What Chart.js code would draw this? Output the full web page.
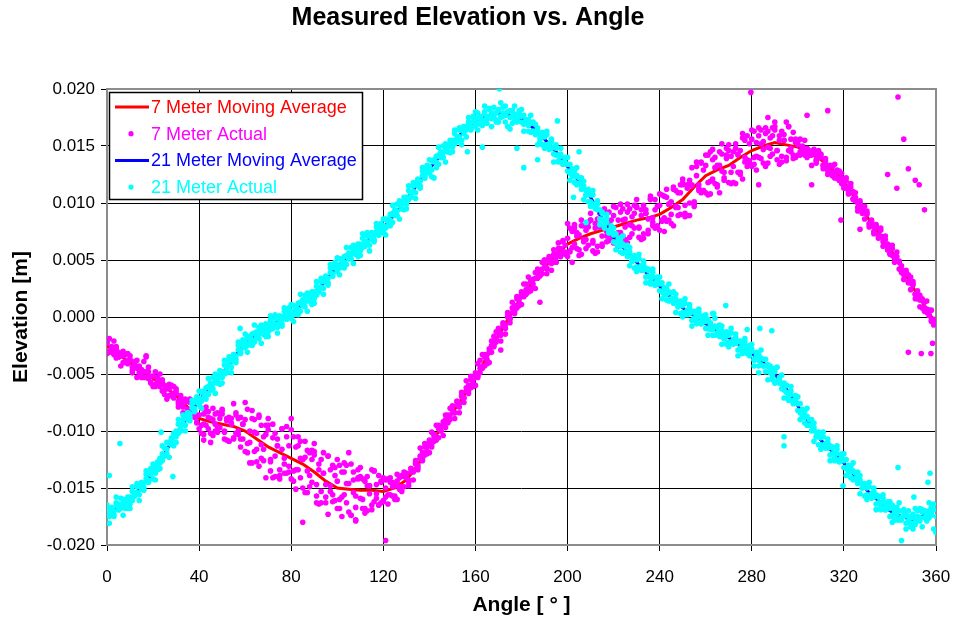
<!DOCTYPE html>
<html><head><meta charset="utf-8">
<script src="https://cdn.jsdelivr.net/npm/chart.js@4.4.0/dist/chart.umd.min.js"></script>
<style>html,body{margin:0;padding:0;background:#fff;}</style>
</head><body>
<canvas id="c" width="954" height="618"></canvas>
<script>
// ---- data (angles in degrees, elevations in metres) ----
const angles = [
0,1,2,3,4,5,6,7,8,9,10,11,12,13,14,15,16,17,18,19,
20,21,22,23,24,25,26,27,28,29,30,31,32,33,34,35,36,37,38,39,
40,41,42,43,44,45,46,47,48,49,50,51,52,53,54,55,56,57,58,59,
60,61,62,63,64,65,66,67,68,69,70,71,72,73,74,75,76,77,78,79,
80,81,82,83,84,85,86,87,88,89,90,91,92,93,94,95,96,97,98,99,
100,101,102,103,104,105,106,107,108,109,110,111,112,113,114,115,116,117,118,119,
120,121,122,123,124,125,126,127,128,129,130,131,132,133,134,135,136,137,138,139,
140,141,142,143,144,145,146,147,148,149,150,151,152,153,154,155,156,157,158,159,
160,161,162,163,164,165,166,167,168,169,170,171,172,173,174,175,176,177,178,179,
180,181,182,183,184,185,186,187,188,189,190,191,192,193,194,195,196,197,198,199,
200,201,202,203,204,205,206,207,208,209,210,211,212,213,214,215,216,217,218,219,
220,221,222,223,224,225,226,227,228,229,230,231,232,233,234,235,236,237,238,239,
240,241,242,243,244,245,246,247,248,249,250,251,252,253,254,255,256,257,258,259,
260,261,262,263,264,265,266,267,268,269,270,271,272,273,274,275,276,277,278,279,
280,281,282,283,284,285,286,287,288,289,290,291,292,293,294,295,296,297,298,299,
300,301,302,303,304,305,306,307,308,309,310,311,312,313,314,315,316,317,318,319,
320,321,322,323,324,325,326,327,328,329,330,331,332,333,334,335,336,337,338,339,
340,341,342,343,344,345,346,347,348,349,350,351,352,353,354,355,356,357,358,359];

// 7 m actual, pass 1
const actual7 = [
-0.0022,-0.0031,-0.0026,-0.0033,-0.0026,-0.0035,-0.0033,-0.0040,-0.0033,-0.0041,
-0.0037,-0.0047,-0.0041,-0.0038,-0.0049,-0.0046,-0.0053,-0.0035,-0.0048,-0.0057,
-0.0052,-0.0061,-0.0053,-0.0061,-0.0055,-0.0068,-0.0062,-0.0069,-0.0060,-0.0071,
-0.0065,-0.0076,-0.0071,-0.0079,-0.0072,-0.0082,-0.0075,-0.0085,-0.0082,-0.0093,
-0.0086,-0.0102,-0.0085,-0.0095,-0.0083,-0.0110,-0.0090,-0.0100,-0.0084,-0.0097,
-0.0082,-0.0101,-0.0091,-0.0109,-0.0089,-0.0076,-0.0102,-0.0089,-0.0114,-0.0094,
-0.0090,-0.0119,-0.0100,-0.0128,-0.0090,-0.0116,-0.0088,-0.0124,-0.0105,-0.0141,
-0.0095,-0.0127,-0.0094,-0.0122,-0.0107,-0.0142,-0.0116,-0.0137,-0.0096,-0.0131,
-0.0089,-0.0144,-0.0114,-0.0134,-0.0109,-0.0125,-0.0123,-0.0154,-0.0119,-0.0145,
-0.0118,-0.0163,-0.0134,-0.0153,-0.0119,-0.0147,-0.0173,-0.0134,-0.0156,-0.0132,
-0.0144,-0.0168,-0.0136,-0.0156,-0.0130,-0.0119,-0.0174,-0.0143,-0.0179,-0.0141,
-0.0159,-0.0142,-0.0168,-0.0148,-0.0155,-0.0134,-0.0162,-0.0147,-0.0165,-0.0144,
-0.0161,-0.0150,-0.0142,-0.0156,-0.0145,-0.0157,-0.0144,-0.0151,-0.0139,-0.0149,
-0.0140,-0.0145,-0.0133,-0.0136,-0.0126,-0.0132,-0.0122,-0.0126,-0.0114,-0.0118,
-0.0108,-0.0114,-0.0103,-0.0108,-0.0095,-0.0100,-0.0092,-0.0097,-0.0086,-0.0090,
-0.0079,-0.0084,-0.0074,-0.0079,-0.0066,-0.0071,-0.0062,-0.0067,-0.0055,-0.0059,
-0.0049,-0.0053,-0.0038,-0.0045,-0.0033,-0.0041,-0.0028,-0.0031,-0.0017,-0.0022,
-0.0011,-0.0014,-0.0006,-0.0010,0.0004,-0.0002,0.0008,0.0003,0.0016,0.0013,
0.0022,0.0018,0.0029,0.0022,0.0031,0.0026,0.0039,0.0034,0.0041,0.0038,
0.0050,0.0042,0.0053,0.0047,0.0059,0.0048,0.0060,0.0053,0.0066,0.0055,
0.0069,0.0057,0.0075,0.0064,0.0074,0.0059,0.0080,0.0066,0.0076,0.0063,
0.0085,0.0065,0.0078,0.0062,0.0091,0.0071,0.0085,0.0066,0.0081,0.0072,
0.0089,0.0068,0.0085,0.0074,0.0095,0.0079,0.0092,0.0070,0.0088,0.0078,
0.0096,0.0078,0.0089,0.0073,0.0094,0.0086,0.0103,0.0080,0.0094,0.0079,
0.0098,0.0085,0.0106,0.0084,0.0099,0.0090,0.0112,0.0096,0.0109,0.0090,
0.0118,0.0091,0.0113,0.0100,0.0131,0.0097,0.0124,0.0113,0.0136,0.0111,
0.0133,0.0107,0.0145,0.0121,0.0140,0.0116,0.0133,0.0152,0.0122,0.0142,
0.0118,0.0141,0.0132,0.0152,0.0127,0.0146,0.0121,0.0155,0.0138,0.0137,
0.0156,0.0134,0.0153,0.0140,0.0164,0.0147,0.0161,0.0135,0.0157,0.0143,
0.0167,0.0146,0.0155,0.0141,0.0160,0.0171,0.0146,0.0156,0.0142,0.0153,
0.0154,0.0142,0.0150,0.0142,0.0143,0.0142,0.0145,0.0145,0.0135,0.0142,
0.0142,0.0133,0.0139,0.0128,0.0126,0.0132,0.0122,0.0129,0.0120,0.0126,
0.0115,0.0119,0.0108,0.0114,0.0104,0.0109,0.0096,0.0100,0.0096,0.0086,
0.0091,0.0081,0.0084,0.0075,0.0081,0.0071,0.0076,0.0062,0.0068,0.0059,
0.0056,0.0060,0.0048,0.0053,0.0048,0.0039,0.0037,0.0039,0.0037,0.0024,
0.0029,0.0020,0.0016,0.0019,0.0008,0.0013,0.0004,0.0004,-0.0004,-0.0003];

// 7 m actual, pass 2
const actual7b = [
-0.0032,-0.0019,-0.0031,-0.0021,-0.0036,-0.0031,-0.0043,-0.0030,-0.0039,-0.0032,
-0.0034,-0.0049,-0.0039,-0.0053,-0.0044,-0.0053,-0.0039,-0.0053,-0.0044,-0.0058,
-0.0061,-0.0048,-0.0060,-0.0050,-0.0065,-0.0060,-0.0072,-0.0059,-0.0068,-0.0061,
-0.0063,-0.0079,-0.0069,-0.0084,-0.0075,-0.0085,-0.0072,-0.0086,-0.0078,-0.0092,
-0.0098,-0.0080,-0.0094,-0.0079,-0.0098,-0.0089,-0.0104,-0.0085,-0.0096,-0.0085,
-0.0085,-0.0107,-0.0089,-0.0109,-0.0093,-0.0106,-0.0084,-0.0103,-0.0088,-0.0107,
-0.0118,-0.0081,-0.0110,-0.0082,-0.0118,-0.0102,-0.0131,-0.0095,-0.0116,-0.0095,
-0.0099,-0.0135,-0.0106,-0.0140,-0.0113,-0.0134,-0.0098,-0.0129,-0.0105,-0.0136,
-0.0142,-0.0105,-0.0134,-0.0105,-0.0141,-0.0125,-0.0154,-0.0117,-0.0139,-0.0117,
-0.0121,-0.0157,-0.0129,-0.0163,-0.0137,-0.0158,-0.0122,-0.0153,-0.0130,-0.0161,
-0.0168,-0.0130,-0.0158,-0.0128,-0.0163,-0.0146,-0.0174,-0.0136,-0.0157,-0.0134,
-0.0140,-0.0168,-0.0144,-0.0170,-0.0148,-0.0165,-0.0135,-0.0159,-0.0139,-0.0163,
-0.0162,-0.0143,-0.0156,-0.0141,-0.0157,-0.0148,-0.0160,-0.0141,-0.0149,-0.0136,
-0.0137,-0.0148,-0.0133,-0.0143,-0.0129,-0.0134,-0.0115,-0.0124,-0.0111,-0.0120,
-0.0119,-0.0101,-0.0109,-0.0095,-0.0106,-0.0096,-0.0104,-0.0086,-0.0092,-0.0080,
-0.0078,-0.0089,-0.0074,-0.0084,-0.0070,-0.0075,-0.0056,-0.0065,-0.0052,-0.0061,
-0.0060,-0.0041,-0.0049,-0.0033,-0.0043,-0.0033,-0.0040,-0.0021,-0.0025,-0.0013,
-0.0010,-0.0021,-0.0005,-0.0015,0.0000,-0.0005,0.0013,0.0005,0.0018,0.0010,
0.0011,0.0029,0.0020,0.0035,0.0023,0.0033,0.0025,0.0042,0.0037,0.0048,
0.0050,0.0038,0.0052,0.0041,0.0054,0.0048,0.0065,0.0055,0.0067,0.0057,
0.0053,0.0078,0.0061,0.0081,0.0060,0.0072,0.0055,0.0080,0.0068,0.0083,
0.0085,0.0058,0.0082,0.0057,0.0079,0.0064,0.0095,0.0071,0.0092,0.0068,
0.0065,0.0096,0.0074,0.0099,0.0071,0.0086,0.0065,0.0095,0.0080,0.0098,
0.0097,0.0070,0.0094,0.0069,0.0091,0.0076,0.0106,0.0083,0.0103,0.0080,
0.0076,0.0107,0.0087,0.0112,0.0085,0.0101,0.0080,0.0111,0.0096,0.0116,
0.0116,0.0088,0.0116,0.0089,0.0116,0.0101,0.0136,0.0111,0.0135,0.0111,
0.0109,0.0142,0.0119,0.0147,0.0117,0.0133,0.0109,0.0143,0.0127,0.0148,
0.0146,0.0117,0.0145,0.0117,0.0143,0.0127,0.0161,0.0136,0.0159,0.0134,
0.0132,0.0163,0.0141,0.0166,0.0139,0.0154,0.0132,0.0163,0.0148,0.0166,
0.0164,0.0138,0.0159,0.0136,0.0155,0.0140,0.0167,0.0145,0.0162,0.0140,
0.0142,0.0156,0.0144,0.0155,0.0140,0.0146,0.0133,0.0147,0.0138,0.0146,
0.0143,0.0130,0.0137,0.0125,0.0132,0.0124,0.0134,0.0122,0.0128,0.0117,
0.0113,0.0122,0.0110,0.0117,0.0103,0.0105,0.0093,0.0102,0.0093,0.0097,
0.0093,0.0079,0.0085,0.0073,0.0078,0.0069,0.0078,0.0066,0.0071,0.0059,
0.0055,0.0063,0.0051,0.0057,0.0042,0.0045,0.0033,0.0041,0.0031,0.0035,
0.0031,0.0016,0.0023,0.0009,0.0015,0.0005,0.0014,0.0001,0.0006,-0.0007];

// 7 m actual, pass 3
const actual7c = [
-0.0023,-0.0030,-0.0027,-0.0031,-0.0028,-0.0035,-0.0034,-0.0034,-0.0040,-0.0038,
-0.0038,-0.0044,-0.0042,-0.0045,-0.0043,-0.0049,-0.0048,-0.0048,-0.0054,-0.0052,
-0.0052,-0.0059,-0.0056,-0.0060,-0.0057,-0.0064,-0.0063,-0.0063,-0.0069,-0.0067,
-0.0067,-0.0074,-0.0072,-0.0076,-0.0074,-0.0081,-0.0081,-0.0081,-0.0088,-0.0086,
-0.0076,-0.0095,-0.0103,-0.0083,-0.0088,-0.0102,-0.0080,-0.0094,-0.0101,-0.0089,
-0.0081,-0.0100,-0.0108,-0.0088,-0.0094,-0.0107,-0.0086,-0.0100,-0.0107,-0.0094,
-0.0075,-0.0111,-0.0128,-0.0089,-0.0101,-0.0127,-0.0086,-0.0112,-0.0126,-0.0103,
-0.0089,-0.0125,-0.0141,-0.0102,-0.0113,-0.0139,-0.0098,-0.0124,-0.0137,-0.0113,
-0.0099,-0.0135,-0.0151,-0.0113,-0.0124,-0.0150,-0.0109,-0.0135,-0.0149,-0.0125,
-0.0111,-0.0147,-0.0164,-0.0125,-0.0137,-0.0163,-0.0122,-0.0148,-0.0162,-0.0139,
-0.0125,-0.0160,-0.0175,-0.0136,-0.0146,-0.0171,-0.0129,-0.0154,-0.0167,-0.0142,
-0.0132,-0.0160,-0.0172,-0.0140,-0.0148,-0.0169,-0.0135,-0.0155,-0.0165,-0.0145,
-0.0141,-0.0158,-0.0164,-0.0145,-0.0149,-0.0160,-0.0138,-0.0149,-0.0153,-0.0140,
-0.0141,-0.0143,-0.0136,-0.0135,-0.0128,-0.0130,-0.0124,-0.0119,-0.0121,-0.0114,
-0.0110,-0.0112,-0.0105,-0.0105,-0.0098,-0.0100,-0.0095,-0.0090,-0.0093,-0.0086,
-0.0082,-0.0084,-0.0077,-0.0076,-0.0069,-0.0071,-0.0065,-0.0060,-0.0062,-0.0055,
-0.0051,-0.0052,-0.0045,-0.0043,-0.0035,-0.0037,-0.0031,-0.0025,-0.0026,-0.0019,
-0.0014,-0.0016,-0.0008,-0.0007,0.0001,-0.0001,0.0004,0.0010,0.0008,0.0016,
0.0020,0.0018,0.0024,0.0025,0.0031,0.0029,0.0034,0.0038,0.0036,0.0042,
0.0046,0.0043,0.0049,0.0049,0.0055,0.0052,0.0056,0.0060,0.0057,0.0063,
0.0082,0.0058,0.0048,0.0078,0.0071,0.0054,0.0085,0.0068,0.0060,0.0079,
0.0091,0.0067,0.0056,0.0086,0.0079,0.0062,0.0093,0.0075,0.0067,0.0085,
0.0097,0.0073,0.0062,0.0092,0.0085,0.0068,0.0099,0.0081,0.0073,0.0091,
0.0103,0.0079,0.0068,0.0098,0.0091,0.0073,0.0104,0.0087,0.0078,0.0097,
0.0108,0.0084,0.0075,0.0105,0.0099,0.0082,0.0114,0.0097,0.0089,0.0109,
0.0121,0.0098,0.0089,0.0120,0.0115,0.0099,0.0132,0.0116,0.0109,0.0129,
0.0142,0.0118,0.0108,0.0138,0.0131,0.0114,0.0145,0.0128,0.0120,0.0139,
0.0151,0.0127,0.0118,0.0148,0.0142,0.0125,0.0157,0.0140,0.0132,0.0152,
0.0164,0.0140,0.0129,0.0159,0.0152,0.0135,0.0166,0.0149,0.0141,0.0159,
0.0171,0.0146,0.0134,0.0163,0.0155,0.0137,0.0167,0.0148,0.0139,0.0156,
0.0151,0.0145,0.0148,0.0145,0.0148,0.0142,0.0142,0.0143,0.0137,0.0140,
0.0140,0.0133,0.0135,0.0131,0.0133,0.0127,0.0127,0.0127,0.0120,0.0122,
0.0121,0.0113,0.0114,0.0109,0.0110,0.0102,0.0100,0.0099,0.0091,0.0092,
0.0090,0.0082,0.0083,0.0079,0.0080,0.0072,0.0071,0.0070,0.0063,0.0064,
0.0062,0.0054,0.0054,0.0049,0.0049,0.0041,0.0040,0.0038,0.0030,0.0030,
0.0028,0.0020,0.0021,0.0015,0.0016,0.0008,0.0007,0.0006,-0.0003,-0.0002];

const stray7Angles = [17,42,85,108,121,171,188,279.6,283,287,304,306,313,318.7,327,339,343,343.5,346,348,351,352.7,355,348,353.6,357.8,358.5];
const stray7Values = [-0.0034,-0.0108,-0.0180,-0.0178,-0.0196,-0.0029,0.0013,0.0197,0.0116,0.0175,0.0177,0.0116,0.0181,0.0085,0.0077,0.0125,0.0113,0.0193,0.0156,0.0130,0.0120,0.0116,0.0094,-0.0031,-0.0032,-0.0032,-0.0023];

// 21 m actual, pass 1
const actual21 = [
-0.0169,-0.0175,-0.0172,-0.0173,-0.0163,-0.0164,-0.0168,-0.0160,-0.0168,-0.0158,
-0.0164,-0.0153,-0.0157,-0.0149,-0.0156,-0.0146,-0.0150,-0.0138,-0.0145,-0.0135,
-0.0142,-0.0131,-0.0134,-0.0124,-0.0126,-0.0115,-0.0120,-0.0110,-0.0106,-0.0102,
-0.0105,-0.0094,-0.0100,-0.0090,-0.0095,-0.0084,-0.0088,-0.0076,-0.0083,-0.0073,
-0.0077,-0.0066,-0.0071,-0.0062,-0.0068,-0.0058,-0.0063,-0.0050,-0.0057,-0.0047,
-0.0053,-0.0042,-0.0049,-0.0039,-0.0044,-0.0033,-0.0037,-0.0025,-0.0032,-0.0023,
-0.0027,-0.0017,-0.0023,-0.0015,-0.0022,-0.0013,-0.0019,-0.0007,-0.0015,-0.0006,
-0.0013,-0.0003,-0.0010,-0.0001,-0.0009,0.0000,-0.0006,0.0005,-0.0002,0.0006,
-0.0001,0.0010,0.0003,0.0012,0.0005,0.0015,0.0009,0.0021,0.0014,0.0022,
0.0016,0.0027,0.0022,0.0031,0.0025,0.0035,0.0030,0.0043,0.0036,0.0046,
0.0040,0.0051,0.0045,0.0053,0.0046,0.0056,0.0051,0.0063,0.0055,0.0064,
0.0058,0.0069,0.0062,0.0071,0.0063,0.0073,0.0068,0.0079,0.0072,0.0080,
0.0074,0.0086,0.0080,0.0090,0.0083,0.0094,0.0089,0.0102,0.0095,0.0105,
0.0099,0.0111,0.0105,0.0115,0.0109,0.0120,0.0115,0.0128,0.0122,0.0131,
0.0126,0.0137,0.0122,0.0141,0.0134,0.0145,0.0140,0.0152,0.0145,0.0155,
0.0149,0.0161,0.0154,0.0164,0.0155,0.0167,0.0167,0.0171,0.0164,0.0175,
0.0167,0.0179,0.0169,0.0171,0.0180,0.0170,0.0183,0.0174,0.0184,0.0173,
0.0182,0.0175,0.0184,0.0171,0.0180,0.0165,0.0181,0.0172,0.0171,0.0179,
0.0171,0.0177,0.0173,0.0173,0.0162,0.0171,0.0160,0.0166,0.0154,0.0162,
0.0151,0.0160,0.0147,0.0154,0.0143,0.0151,0.0137,0.0143,0.0134,0.0139,
0.0128,0.0134,0.0124,0.0128,0.0116,0.0122,0.0112,0.0119,0.0107,0.0112,
0.0101,0.0107,0.0095,0.0099,0.0086,0.0091,0.0080,0.0087,0.0074,0.0078,
0.0066,0.0073,0.0063,0.0067,0.0056,0.0062,0.0053,0.0061,0.0049,0.0054,
0.0044,0.0051,0.0041,0.0046,0.0035,0.0041,0.0031,0.0039,0.0028,0.0033,
0.0023,0.0030,0.0020,0.0025,0.0014,0.0021,0.0012,0.0020,0.0009,0.0014,
0.0004,0.0012,0.0002,0.0008,-0.0003,0.0004,-0.0004,0.0004,-0.0006,-0.0001,
-0.0010,-0.0002,-0.0011,0.0003,-0.0016,-0.0009,-0.0017,-0.0008,-0.0019,-0.0013,
-0.0022,-0.0014,-0.0024,-0.0018,-0.0029,-0.0022,-0.0030,-0.0022,-0.0026,-0.0034,
-0.0028,-0.0038,-0.0031,-0.0033,-0.0042,-0.0037,-0.0048,-0.0042,-0.0043,-0.0052,
-0.0045,-0.0057,-0.0053,-0.0063,-0.0064,-0.0060,-0.0070,-0.0065,-0.0076,-0.0072,
-0.0082,-0.0076,-0.0087,-0.0083,-0.0095,-0.0090,-0.0100,-0.0093,-0.0105,-0.0101,
-0.0112,-0.0105,-0.0115,-0.0110,-0.0121,-0.0115,-0.0124,-0.0116,-0.0127,-0.0122,
-0.0132,-0.0125,-0.0136,-0.0131,-0.0143,-0.0137,-0.0146,-0.0139,-0.0150,-0.0146,
-0.0156,-0.0149,-0.0159,-0.0153,-0.0164,-0.0158,-0.0167,-0.0159,-0.0169,-0.0164,
-0.0175,-0.0165,-0.0178,-0.0167,-0.0178,-0.0178,-0.0171,-0.0181,-0.0170,-0.0181,
-0.0173,-0.0182,-0.0170,-0.0179,-0.0169,-0.0170,-0.0178,-0.0176,-0.0167,-0.0186];

// 21 m actual, pass 2
const actual21b = [
-0.0165,-0.0181,-0.0167,-0.0175,-0.0158,-0.0169,-0.0159,-0.0174,-0.0162,-0.0168,
-0.0168,-0.0149,-0.0157,-0.0146,-0.0161,-0.0145,-0.0152,-0.0135,-0.0143,-0.0133,
-0.0129,-0.0143,-0.0127,-0.0133,-0.0113,-0.0122,-0.0110,-0.0123,-0.0108,-0.0113,
-0.0110,-0.0090,-0.0098,-0.0086,-0.0100,-0.0084,-0.0091,-0.0073,-0.0080,-0.0070,
-0.0065,-0.0080,-0.0065,-0.0072,-0.0054,-0.0064,-0.0053,-0.0067,-0.0054,-0.0059,
-0.0058,-0.0038,-0.0047,-0.0035,-0.0049,-0.0033,-0.0040,-0.0022,-0.0029,-0.0020,
-0.0015,-0.0031,-0.0017,-0.0025,-0.0007,-0.0018,-0.0009,-0.0023,-0.0011,-0.0017,
-0.0017,0.0001,-0.0009,0.0002,-0.0014,0.0001,-0.0008,0.0008,0.0000,0.0008,
0.0011,-0.0004,0.0009,0.0002,0.0020,0.0010,0.0019,0.0005,0.0018,0.0011,
0.0012,0.0031,0.0023,0.0034,0.0020,0.0036,0.0028,0.0046,0.0038,0.0048,
0.0052,0.0037,0.0051,0.0043,0.0061,0.0051,0.0061,0.0047,0.0059,0.0053,
0.0054,0.0073,0.0063,0.0074,0.0058,0.0074,0.0066,0.0082,0.0074,0.0082,
0.0086,0.0072,0.0086,0.0080,0.0098,0.0089,0.0099,0.0086,0.0099,0.0094,
0.0095,0.0115,0.0106,0.0118,0.0104,0.0121,0.0113,0.0131,0.0124,0.0133,
0.0138,0.0123,0.0138,0.0131,0.0149,0.0140,0.0150,0.0136,0.0149,0.0144,
0.0145,0.0164,0.0155,0.0166,0.0151,0.0167,0.0158,0.0175,0.0167,0.0176,
0.0180,0.0164,0.0176,0.0168,0.0185,0.0174,0.0182,0.0167,0.0179,0.0171,
0.0171,0.0188,0.0176,0.0185,0.0167,0.0181,0.0170,0.0185,0.0174,0.0181,
0.0182,0.0163,0.0173,0.0163,0.0177,0.0163,0.0169,0.0151,0.0161,0.0151,
0.0148,0.0163,0.0149,0.0156,0.0136,0.0148,0.0136,0.0148,0.0136,0.0140,
0.0140,0.0120,0.0130,0.0118,0.0131,0.0117,0.0122,0.0103,0.0111,0.0101,
0.0097,0.0111,0.0096,0.0102,0.0081,0.0092,0.0078,0.0090,0.0076,0.0080,
0.0078,0.0059,0.0069,0.0057,0.0071,0.0057,0.0063,0.0045,0.0053,0.0043,
0.0040,0.0055,0.0042,0.0049,0.0030,0.0042,0.0029,0.0042,0.0030,0.0035,
0.0035,0.0016,0.0026,0.0015,0.0029,0.0016,0.0022,0.0004,0.0013,0.0003,
0.0000,0.0016,0.0003,0.0011,-0.0008,0.0005,-0.0006,0.0007,-0.0004,0.0001,
0.0002,-0.0016,-0.0005,-0.0016,-0.0001,-0.0014,-0.0007,-0.0024,-0.0015,-0.0024,
-0.0026,-0.0010,-0.0023,-0.0015,-0.0034,-0.0021,-0.0032,-0.0019,-0.0030,-0.0025,
-0.0024,-0.0043,-0.0033,-0.0043,-0.0029,-0.0043,-0.0037,-0.0055,-0.0045,-0.0055,
-0.0058,-0.0044,-0.0058,-0.0051,-0.0071,-0.0060,-0.0073,-0.0061,-0.0073,-0.0069,
-0.0070,-0.0090,-0.0081,-0.0093,-0.0080,-0.0095,-0.0090,-0.0109,-0.0101,-0.0112,
-0.0116,-0.0101,-0.0114,-0.0107,-0.0126,-0.0114,-0.0126,-0.0113,-0.0125,-0.0120,
-0.0120,-0.0139,-0.0130,-0.0141,-0.0128,-0.0142,-0.0136,-0.0155,-0.0146,-0.0157,
-0.0160,-0.0145,-0.0158,-0.0150,-0.0169,-0.0157,-0.0169,-0.0156,-0.0167,-0.0162,
-0.0162,-0.0180,-0.0169,-0.0178,-0.0163,-0.0176,-0.0169,-0.0186,-0.0175,-0.0184,
-0.0186,-0.0168,-0.0178,-0.0168,-0.0184,-0.0170,-0.0179,-0.0163,-0.0172,-0.0164];

// 21 m actual, pass 3
const actual21c = [
-0.0171,-0.0175,-0.0169,-0.0170,-0.0165,-0.0169,-0.0165,-0.0162,-0.0166,-0.0160,
-0.0158,-0.0161,-0.0154,-0.0154,-0.0148,-0.0151,-0.0146,-0.0142,-0.0145,-0.0138,
-0.0135,-0.0137,-0.0129,-0.0128,-0.0120,-0.0122,-0.0116,-0.0111,-0.0112,-0.0105,
-0.0100,-0.0102,-0.0095,-0.0094,-0.0087,-0.0090,-0.0085,-0.0080,-0.0082,-0.0075,
-0.0071,-0.0074,-0.0067,-0.0067,-0.0061,-0.0064,-0.0059,-0.0055,-0.0058,-0.0051,
-0.0048,-0.0050,-0.0044,-0.0043,-0.0036,-0.0039,-0.0034,-0.0029,-0.0031,-0.0025,
-0.0021,-0.0025,-0.0019,-0.0020,-0.0014,-0.0018,-0.0015,-0.0011,-0.0015,-0.0009,
-0.0007,-0.0011,-0.0006,-0.0006,-0.0001,-0.0005,-0.0002,0.0001,-0.0002,0.0003,
0.0005,0.0002,0.0007,0.0007,0.0013,0.0010,0.0013,0.0017,0.0014,0.0019,
0.0022,0.0019,0.0026,0.0026,0.0033,0.0030,0.0034,0.0039,0.0036,0.0043,
0.0046,0.0043,0.0049,0.0048,0.0054,0.0051,0.0055,0.0059,0.0055,0.0061,
0.0064,0.0061,0.0066,0.0066,0.0071,0.0068,0.0072,0.0075,0.0072,0.0077,
0.0080,0.0078,0.0084,0.0085,0.0091,0.0089,0.0093,0.0098,0.0095,0.0102,
0.0105,0.0103,0.0109,0.0110,0.0117,0.0115,0.0119,0.0124,0.0122,0.0128,
0.0132,0.0129,0.0136,0.0136,0.0142,0.0140,0.0144,0.0148,0.0145,0.0152,
0.0155,0.0152,0.0158,0.0158,0.0164,0.0161,0.0164,0.0168,0.0165,0.0171,
0.0174,0.0170,0.0174,0.0173,0.0178,0.0174,0.0176,0.0179,0.0175,0.0179,
0.0181,0.0176,0.0179,0.0177,0.0180,0.0175,0.0176,0.0178,0.0172,0.0176,
0.0176,0.0169,0.0171,0.0168,0.0170,0.0163,0.0163,0.0163,0.0157,0.0159,
0.0158,0.0151,0.0152,0.0148,0.0149,0.0142,0.0142,0.0141,0.0134,0.0135,
0.0134,0.0126,0.0128,0.0123,0.0124,0.0117,0.0116,0.0115,0.0107,0.0109,
0.0107,0.0099,0.0099,0.0094,0.0094,0.0086,0.0084,0.0083,0.0074,0.0075,
0.0072,0.0065,0.0067,0.0062,0.0064,0.0057,0.0057,0.0057,0.0049,0.0051,
0.0050,0.0043,0.0045,0.0041,0.0043,0.0036,0.0035,0.0035,0.0028,0.0030,
0.0029,0.0022,0.0024,0.0020,0.0022,0.0016,0.0016,0.0016,0.0009,0.0011,
0.0010,0.0004,0.0006,0.0003,0.0005,-0.0001,0.0000,0.0000,-0.0006,-0.0004,
-0.0004,-0.0010,-0.0007,-0.0011,-0.0008,-0.0014,-0.0013,-0.0012,-0.0019,-0.0016,
-0.0016,-0.0022,-0.0020,-0.0023,-0.0021,-0.0027,-0.0026,-0.0026,-0.0032,-0.0030,
-0.0030,-0.0037,-0.0035,-0.0038,-0.0036,-0.0043,-0.0043,-0.0043,-0.0049,-0.0047,
-0.0048,-0.0056,-0.0055,-0.0059,-0.0058,-0.0066,-0.0067,-0.0068,-0.0075,-0.0074,
-0.0076,-0.0084,-0.0083,-0.0088,-0.0087,-0.0095,-0.0096,-0.0097,-0.0105,-0.0104,
-0.0106,-0.0113,-0.0111,-0.0115,-0.0113,-0.0120,-0.0120,-0.0120,-0.0127,-0.0125,
-0.0126,-0.0133,-0.0132,-0.0136,-0.0135,-0.0142,-0.0142,-0.0143,-0.0150,-0.0149,
-0.0150,-0.0157,-0.0155,-0.0158,-0.0156,-0.0163,-0.0163,-0.0163,-0.0169,-0.0167,
-0.0168,-0.0174,-0.0171,-0.0173,-0.0170,-0.0176,-0.0175,-0.0174,-0.0179,-0.0176,
-0.0176,-0.0180,-0.0175,-0.0176,-0.0171,-0.0176,-0.0173,-0.0170,-0.0174,-0.0169];

const stray21Angles = [1,5.6,23.5,28.6,57.8,156.5,163,170.4,178,181,187,195.6,202.6,205,208,263.5,268.7,278,283,283.5,288.7,294,294,319.6,343.5,345,350.4,356.5,357.4,360,360];
const stray21Values = [-0.0139,-0.0111,-0.0101,-0.0140,-0.0010,0.0145,0.0149,0.0200,0.0148,0.0131,0.0138,0.0172,0.0105,0.0145,0.0083,0.0003,0.0010,-0.0011,-0.0049,-0.0010,-0.0012,-0.0105,-0.0113,-0.0148,-0.0132,-0.0196,-0.0158,-0.0145,-0.0137,-0.0189,-0.0175];

const maAngles = [0,5,10,15,20,25,30,35,40,45,50,55,60,65,70,75,80,85,90,95,
100,105,110,115,120,125,130,135,140,145,150,155,160,165,170,175,180,185,190,195,
200,205,210,215,220,225,230,235,240,245,250,255,260,265,270,275,280,285,290,295,
300,305,310,315,320,325,330,335,340,345,350,355,359];

const movingAvg7 = [
-0.0025,-0.0033,-0.0040,-0.0047,-0.0054,-0.0061,-0.0069,-0.0079,-0.0089,-0.0092,
-0.0094,-0.0096,-0.0100,-0.0107,-0.0114,-0.0119,-0.0124,-0.0129,-0.0136,-0.0144,
-0.0150,-0.0151,-0.0152,-0.0152,-0.0153,-0.0150,-0.0143,-0.0130,-0.0112,-0.0098,
-0.0084,-0.0069,-0.0053,-0.0035,-0.0016,0.0001,0.0018,0.0031,0.0044,0.0054,
0.0064,0.0069,0.0073,0.0076,0.0079,0.0082,0.0085,0.0087,0.0090,0.0096,
0.0103,0.0114,0.0124,0.0129,0.0133,0.0140,0.0146,0.0150,0.0153,0.0151,
0.0149,0.0144,0.0138,0.0129,0.0119,0.0104,0.0088,0.0074,0.0060,0.0044,
0.0026,0.0010,-0.0003];

const movingAvg21 = [
-0.0173,-0.0167,-0.0160,-0.0149,-0.0137,-0.0120,-0.0102,-0.0088,-0.0073,-0.0061,
-0.0050,-0.0036,-0.0023,-0.0016,-0.0009,-0.0003,0.0003,0.0011,0.0020,0.0032,
0.0044,0.0053,0.0062,0.0070,0.0078,0.0090,0.0103,0.0117,0.0130,0.0142,
0.0153,0.0163,0.0172,0.0176,0.0179,0.0177,0.0174,0.0166,0.0156,0.0145,
0.0132,0.0119,0.0105,0.0087,0.0070,0.0059,0.0048,0.0037,0.0027,0.0017,
0.0008,0.0001,-0.0006,-0.0012,-0.0018,-0.0025,-0.0032,-0.0040,-0.0050,-0.0063,
-0.0078,-0.0093,-0.0108,-0.0118,-0.0128,-0.0140,-0.0152,-0.0161,-0.0170,-0.0175,
-0.0178,-0.0174,-0.0170];

const xTickStep = 40;
const yTickStep = 0.005;

// ---- helpers ----
function pts(xs, ys) { return xs.map((x, i) => ({ x: x, y: ys[i] })); }

const COLORS = { ma7: '#FF0000', act7: '#FF00FF', ma21: '#0000FF', act21: '#00FFFF' };

const framePlugin = {
  id: 'frame',
  beforeDatasetsDraw(chart) {
    const { ctx, chartArea: a } = chart;
    ctx.save();
    ctx.strokeStyle = '#8c8c8c';
    ctx.lineWidth = 2;
    ctx.strokeRect(a.left, a.top, a.right - a.left, a.bottom - a.top);
    ctx.restore();
  }
};

const boxLegend = {
  id: 'boxLegend',
  afterDraw(chart) {
    const { ctx, chartArea: a } = chart;
    const x0 = a.left + 2, y0 = a.top + 3, w = 253, h = 107;
    ctx.save();
    ctx.fillStyle = '#fff';
    ctx.fillRect(x0, y0, w, h);
    ctx.strokeStyle = '#000';
    ctx.lineWidth = 1.5;
    ctx.strokeRect(x0 + 0.5, y0 + 0.5, w, h);
    const items = chart.data.datasets.slice().sort((p, q) => p.legendIndex - q.legendIndex);
    ctx.font = "18px 'Liberation Sans', Arial, sans-serif";
    ctx.textBaseline = 'middle';
    ctx.textAlign = 'left';
    items.forEach((ds, i) => {
      const cy = y0 + 15 + i * 26.7;
      if (ds.showLine) {
        ctx.strokeStyle = ds.borderColor;
        ctx.lineWidth = 3;
        ctx.beginPath();
        ctx.moveTo(x0 + 6, cy);
        ctx.lineTo(x0 + 40, cy);
        ctx.stroke();
      } else {
        ctx.fillStyle = ds.backgroundColor;
        ctx.beginPath();
        ctx.arc(x0 + 22, cy, 2.6, 0, Math.PI * 2);
        ctx.fill();
      }
      ctx.fillStyle = ds.legendColor;
      ctx.fillText(ds.label, x0 + 42, cy + 1);
    });
    ctx.restore();
  }
};

const FONT = "'Liberation Sans', Arial, sans-serif";
Chart.defaults.font.family = FONT;
Chart.defaults.color = '#000';

new Chart(document.getElementById('c'), {
  type: 'scatter',
  data: {
    datasets: [
      { label: '21 Meter Actual', legendIndex: 3, legendColor: COLORS.act21,
        data: pts(angles, actual21).concat(pts(angles, actual21b), pts(angles, actual21c), pts(stray21Angles, stray21Values)),
        backgroundColor: COLORS.act21, pointBackgroundColor: COLORS.act21,
        pointBorderWidth: 0, borderWidth: 0, pointRadius: 2.8, order: 0 },
      { label: '21 Meter Moving Average', legendIndex: 2, legendColor: COLORS.ma21,
        data: pts(maAngles, movingAvg21), showLine: true, fill: false,
        borderColor: COLORS.ma21, borderWidth: 3, pointRadius: 0, order: 1 },
      { label: '7 Meter Actual', legendIndex: 1, legendColor: COLORS.act7,
        data: pts(angles, actual7).concat(pts(angles, actual7b), pts(angles, actual7c), pts(stray7Angles, stray7Values)),
        backgroundColor: COLORS.act7, pointBackgroundColor: COLORS.act7,
        pointBorderWidth: 0, borderWidth: 0, pointRadius: 2.8, order: 2 },
      { label: '7 Meter Moving Average', legendIndex: 0, legendColor: COLORS.ma7,
        data: pts(maAngles, movingAvg7), showLine: true, fill: false,
        borderColor: COLORS.ma7, borderWidth: 3, pointRadius: 0, order: 3 }
    ]
  },
  options: {
    responsive: false,
    animation: false,
    devicePixelRatio: 1,
    layout: { padding: { left: 0, right: 18, top: 0, bottom: 0 } },
    plugins: {
      legend: { display: false },
      tooltip: { enabled: false },
      title: {
        display: true, text: 'Measured Elevation vs. Angle', color: '#000',
        font: { size: 25, weight: 'bold', family: FONT },
        padding: { top: 3, bottom: 56 }
      }
    },
    scales: {
      x: {
        type: 'linear', min: 0, max: 360,
        ticks: { stepSize: xTickStep, font: { size: 17 }, color: '#000', padding: 16, maxRotation: 0, autoSkip: false },
        grid: { color: '#000', lineWidth: 1, tickLength: 6, tickColor: '#000' },
        border: { display: false },
        title: { display: true, text: 'Angle [ ° ]', color: '#000', font: { size: 21, weight: 'bold' }, padding: { top: 0, bottom: 0 } },
        afterFit(s) { s.height = 73; s.paddingLeft = 0; s.paddingRight = 0; }
      },
      y: {
        type: 'linear', min: -0.02, max: 0.02,
        ticks: { stepSize: yTickStep, font: { size: 17 }, color: '#000', padding: 6,
          callback: v => (Math.abs(v) < 1e-9 ? 0 : v).toFixed(3) },
        grid: { color: '#000', lineWidth: 1, tickLength: 6, tickColor: '#000' },
        border: { display: false },
        title: { display: true, text: 'Elevation [m]', color: '#000', font: { size: 21, weight: 'bold' }, padding: { top: 9, bottom: 0 } },
        afterFit(s) { s.width = 107; }
      }
    }
  },
  plugins: [framePlugin, boxLegend]
});
</script>
</body></html>
